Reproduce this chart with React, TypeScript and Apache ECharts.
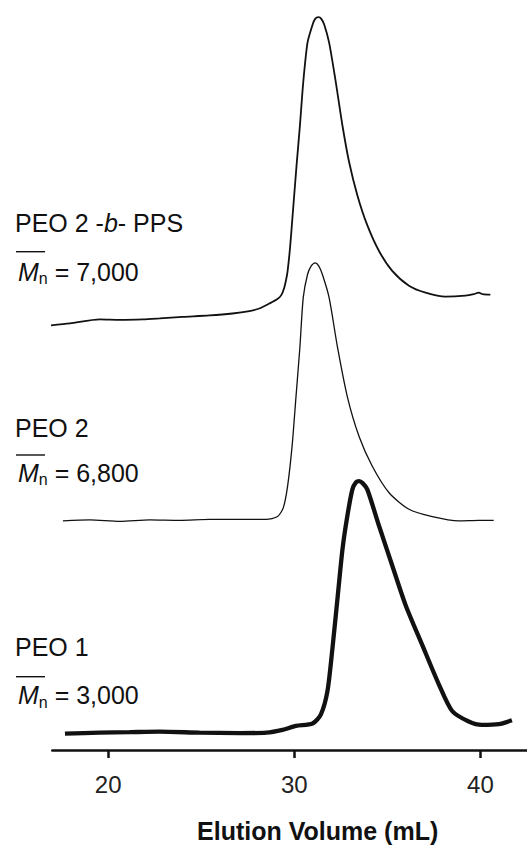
import React, { useEffect, useRef } from "react";
import * as echarts from "echarts";

// Elution volume (mL) and detector response (arbitrary units) for each trace
const blockX = [16.88, 17.95, 19.55, 20.63, 21.86, 22.77, 24.0, 25.45, 26.68, 27.59, 28.12, 28.66, 29.09, 29.3, 29.46, 29.57, 29.64, 29.77, 29.91, 30.12, 30.3, 30.48, 30.71, 30.98, 31.12, 31.3, 31.45, 31.61, 31.87, 32.23, 32.59, 32.94, 33.39, 33.92, 34.55, 35.26, 36.16, 37.05, 38.12, 39.19, 39.64, 39.91, 40.12, 40.53];
const blockY = [428, 430, 434, 433.5, 434, 435, 436.5, 438, 440, 442.5, 445, 450, 454.5, 458.5, 466, 475, 482.7, 506, 539, 589, 629, 673, 713, 731, 737, 738.7, 737, 731, 713, 673, 629, 593, 559, 529, 503, 483, 468, 461, 457, 458, 459.5, 461, 459.5, 459];

const peo2X = [17.57, 19.02, 20.63, 22.23, 23.84, 25.45, 27.05, 28.48, 29.1, 29.41, 29.64, 29.88, 30.09, 30.3, 30.48, 30.71, 30.91, 31.12, 31.31, 31.51, 31.87, 32.32, 32.85, 33.48, 34.19, 35.09, 36.16, 37.41, 38.84, 39.91, 40.71];
const peo2Y = [231, 232, 230.5, 232, 231.5, 232.5, 232.5, 232.5, 235.3, 244.3, 266, 306, 356, 406, 456, 479.3, 488, 491, 488, 479.3, 456, 406, 356, 316, 286, 259.3, 242.7, 235.3, 231, 231.5, 231.5];

const peo1X = [17.68, 19.55, 21.16, 22.77, 24.91, 27.05, 28.5, 29.37, 30.09, 30.98, 31.43, 31.78, 32.05, 32.32, 32.59, 32.85, 33.12, 33.32, 33.48, 33.67, 33.92, 34.55, 35.26, 35.98, 36.87, 37.77, 38.48, 39.37, 40.08, 40.98, 41.69];
const peo1Y = [16.5, 17.5, 18, 18.5, 17.5, 17, 17.5, 20.3, 24.3, 26.7, 36, 59.3, 102.7, 152.7, 202.7, 236, 262.7, 270, 271, 269, 262.7, 226, 186, 146, 106, 66, 39.3, 28.7, 25.3, 26, 30];

const tickValues = [20, 30, 40];
const axisTitle = "Elution Volume (mL)";

const zip = (xs: number[], ys: number[]) => xs.map((x, i) => [x, ys[i]]);

export default function App() {
  const ref = useRef<HTMLDivElement>(null);
  useEffect(() => {
    if (!ref.current) return;
    const chart = echarts.init(ref.current, null, { renderer: "svg" });
    const font = "Liberation Sans, Arial, Helvetica, sans-serif";
    const labelText = (x: number, y: number, text: string, rich?: any) => ({
      type: "text",
      x,
      y,
      style: {
        text,
        fontFamily: font,
        fontSize: 25,
        fill: "#111",
        verticalAlign: rich ? "top" : "middle",
        align: "left",
        rich,
      },
    });
    const mnRich = {
      m: { fontFamily: font, fontSize: 25, fontStyle: "italic", lineHeight: 30, fill: "#111" },
      s: { fontFamily: font, fontSize: 16, lineHeight: 12, verticalAlign: "bottom", fill: "#111" },
      t: { fontFamily: font, fontSize: 25, lineHeight: 30, fill: "#111" },
    };
    const bRich = {
      n: { fontFamily: font, fontSize: 25, lineHeight: 30, fill: "#111" },
      i: { fontFamily: font, fontSize: 25, lineHeight: 30, fontStyle: "italic", fill: "#111" },
    };
    const overline = (y: number) => ({
      type: "line",
      shape: { x1: 16, y1: y, x2: 45, y2: y },
      style: { stroke: "#111", lineWidth: 1.4 },
    });
    const line = (data: number[][], w: number) => ({
      type: "line",
      data,
      showSymbol: false,
      symbol: "none",
      smooth: 0.25,
      clip: false,
      lineStyle: { color: "#111", width: w },
    });
    chart.setOption({
      animation: false,
      backgroundColor: "#fff",
      grid: { left: 52.3, top: 0, width: 476, height: 756 },
      xAxis: {
        type: "value",
        min: 17,
        max: 42.5,
        splitLine: { show: false },
        axisLine: { lineStyle: { color: "#111", width: 2.5 } },
        axisTick: { customValues: tickValues, length: 8, lineStyle: { color: "#111", width: 2.5 } },
        axisLabel: {
          customValues: tickValues,
          margin: 22,
          fontSize: 24,
          fontFamily: font,
          color: "#222",
        },
        name: axisTitle,
        nameLocation: "middle",
        nameGap: 68,
        nameTextStyle: {
          fontSize: 25,
          fontWeight: "bold",
          fontFamily: font,
          color: "#111",
          padding: [0, 0, 0, 56],
        },
      },
      yAxis: { type: "value", min: 0, max: 756, show: false },
      series: [
        { name: "PEO 2-b-PPS", ...line(zip(blockX, blockY), 1.8) },
        { name: "PEO 2", ...line(zip(peo2X, peo2Y), 1.3) },
        { name: "PEO 1", ...line(zip(peo1X, peo1Y), 4.3) },
      ],
      graphic: [
        labelText(15, 207.5, "{n|PEO 2 -}{i|b}{n|- PPS}", bRich),
        overline(251.7),
        labelText(18, 256.7, "{m|M}{s|n}{t| = 7,000}", mnRich),
        labelText(15, 428, "PEO 2"),
        overline(455),
        labelText(18, 457.8, "{m|M}{s|n}{t| = 6,800}", mnRich),
        labelText(15, 646.7, "PEO 1"),
        overline(676.7),
        labelText(18, 680.3, "{m|M}{s|n}{t| = 3,000}", mnRich),
      ],
    });
    return () => chart.dispose();
  }, []);
  return (
    <div
      ref={ref}
      style={{ position: "absolute", left: 0, top: 0, width: 527, height: 848 }}
    />
  );
}
